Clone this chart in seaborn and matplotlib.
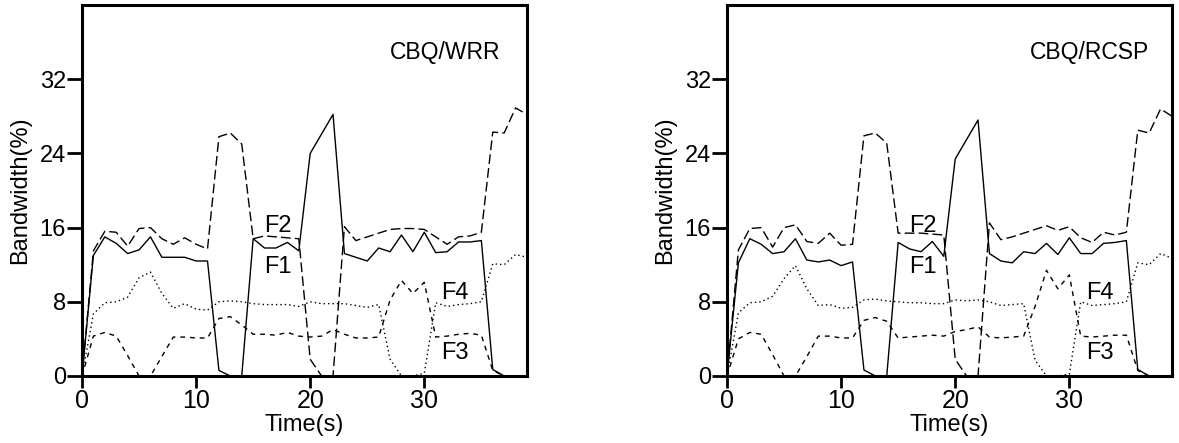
import numpy as np
import pandas as pd
import matplotlib
matplotlib.use("Agg")
import matplotlib.pyplot as plt
import seaborn as sns

# ---------------- data ----------------
time_s = list(range(40))

wrr_f1 = [0, 13.0, 15.0, 14.3, 13.2, 13.6, 15.0, 12.8, 12.8, 12.8, 12.4, 12.4, 0.6, 0, 0,
          14.8, 13.8, 13.8, 14.4, 13.5, 24.0, 26.1, 28.2, 13.2, 12.8, 12.4, 13.8, 13.4, 15.2, 13.4,
          15.5, 13.3, 13.4, 14.45, 14.45, 14.6, 0.7, 0, 0, 0]
wrr_f2 = [0, 13.5, 15.6, 15.5, 14.0, 15.9, 16.0, 14.8, 14.2, 14.9, 14.2, 13.7, 25.8, 26.2, 25.0,
          14.8, 15.1, 15.0, 14.9, 14.8, 1.8, 0, 0, 16.1, 14.6, 15.0, 15.4, 15.8, 15.9, 15.9,
          15.8, 15.0, 14.2, 15.0, 15.1, 15.5, 26.3, 26.2, 28.9, 28.2]
wrr_f3 = [0, 4.3, 4.7, 4.3, 2.2, 0, 0, 2.1, 4.2, 4.2, 4.1, 4.1, 6.2, 6.4, 5.5,
          4.5, 4.5, 4.4, 4.7, 4.3, 4.2, 4.3, 5.0, 4.5, 4.1, 4.1, 4.2, 8.2, 10.3, 8.9,
          10.1, 4.2, 4.3, 4.5, 4.6, 4.4, 0.6, 0, 0, 0]
wrr_f4 = [0, 6.7, 7.9, 8.0, 8.5, 10.6, 11.2, 8.9, 7.3, 7.8, 7.2, 7.1, 8.0, 8.1, 8.0,
          7.8, 7.7, 7.7, 7.7, 7.5, 8.0, 7.8, 7.8, 7.8, 7.6, 7.4, 7.7, 1.8, 0, 0,
          0.3, 7.9, 7.5, 7.7, 7.8, 8.0, 12.1, 12.0, 13.1, 12.8]

rcsp_f1 = [0, 12.2, 14.8, 14.2, 13.2, 13.4, 14.8, 12.5, 12.3, 12.5, 11.9, 12.3, 0.65, 0, 0,
           14.4, 13.7, 13.4, 14.5, 12.9, 23.4, 25.5, 27.6, 13.2, 12.4, 12.2, 13.4, 13.2, 14.3, 13.1,
           14.9, 13.2, 13.2, 14.3, 14.4, 14.6, 0.7, 0, 0, 0]
rcsp_f2 = [0, 13.6, 15.9, 16.0, 13.9, 16.0, 16.3, 14.5, 14.3, 15.4, 14.1, 14.2, 25.9, 26.2, 25.1,
           15.4, 15.4, 15.4, 15.3, 15.2, 1.8, 0, 0, 16.5, 14.7, 15.0, 15.4, 15.8, 16.2, 15.7,
           16.1, 14.9, 14.4, 15.5, 15.2, 15.5, 26.5, 26.2, 28.8, 28.0]
rcsp_f3 = [0, 4.0, 4.7, 4.5, 2.3, 0, 0, 2.1, 4.3, 4.3, 4.1, 4.1, 6.0, 6.3, 5.9,
           4.1, 4.2, 4.3, 4.4, 4.3, 4.8, 5.0, 5.3, 4.2, 4.1, 4.2, 4.3, 7.5, 11.4, 9.4,
           10.9, 4.3, 4.2, 4.3, 4.4, 4.4, 0.6, 0, 0, 0]
rcsp_f4 = [0, 6.8, 7.9, 8.0, 8.6, 10.5, 11.9, 9.4, 7.6, 7.7, 7.3, 7.4, 8.2, 8.3, 8.1,
           8.0, 7.9, 7.9, 7.8, 7.8, 8.2, 8.1, 8.2, 8.0, 7.6, 7.7, 7.8, 1.7, 0, 0,
           0.2, 8.0, 7.6, 7.7, 7.8, 8.0, 12.2, 12.0, 13.2, 12.7]

flow_names = ["F1", "F2", "F3", "F4"]
panel_titles = ["CBQ/WRR", "CBQ/RCSP"]
x_ticks = [0, 10, 20, 30]
y_ticks = [0, 8, 16, 24, 32]

# ---------------- style ----------------
sns.set_style("ticks")
plt.rcParams["font.family"] = ["Liberation Sans", "DejaVu Sans"]
plt.rcParams["text.color"] = "black"
plt.rcParams["axes.labelcolor"] = "black"
plt.rcParams["xtick.color"] = "black"
plt.rcParams["ytick.color"] = "black"

dash_styles = {"F1": "", "F2": (7, 3), "F3": (3.5, 3.5), "F4": (1.0, 2.2)}


def make_df(series):
    rows = []
    for name, vals in zip(flow_names, series):
        for t, v in zip(time_s, vals):
            rows.append({"t": t, "v": v, "flow": name})
    return pd.DataFrame(rows)


fig = plt.figure(figsize=(11.79, 4.43), dpi=100)
W, H = 1179, 443
ax_l = fig.add_axes([82 / W, 1 - 376 / H, 445 / W, 371 / H])
ax_r = fig.add_axes([727 / W, 1 - 376 / H, 445 / W, 371 / H])

panels = [(ax_l, [wrr_f1, wrr_f2, wrr_f3, wrr_f4], panel_titles[0]),
          (ax_r, [rcsp_f1, rcsp_f2, rcsp_f3, rcsp_f4], panel_titles[1])]

label_pos = {"F2": (17.2, 16.2), "F1": (17.2, 11.8), "F4": (32.7, 9.0), "F3": (32.7, 2.5)}

for ax, series, title in panels:
    df = make_df(series)
    sns.lineplot(data=df, x="t", y="v", style="flow", dashes=dash_styles,
                 color="black", linewidth=1.0, legend=False, ax=ax)
    ax.set_xlim(0, 39)
    ax.set_ylim(0, 40)
    ax.set_xticks(x_ticks)
    ax.set_yticks(y_ticks)
    ax.tick_params(axis="x", direction="out", length=8.5, width=2.0, pad=0.5,
                   labelsize=18, colors="black")
    ax.tick_params(axis="y", direction="out", length=11, width=2.0, pad=0.5,
                   labelsize=17, colors="black")
    for sp in ax.spines.values():
        sp.set_visible(True)
        sp.set_linewidth(2.2)
        sp.set_color("black")
    ax.set_xlabel("Time(s)", fontsize=17, labelpad=1, color="black")
    ax.set_ylabel("Bandwidth(%)", fontsize=17, labelpad=6, color="black")
    ax.text(0.815, 0.873, title, transform=ax.transAxes, ha="center", va="center",
            fontsize=16.5, color="black")
    for name, (tx, ty) in label_pos.items():
        ax.text(tx, ty, name, ha="center", va="center", fontsize=17, color="black")

fig.savefig("out.png", dpi=100)
